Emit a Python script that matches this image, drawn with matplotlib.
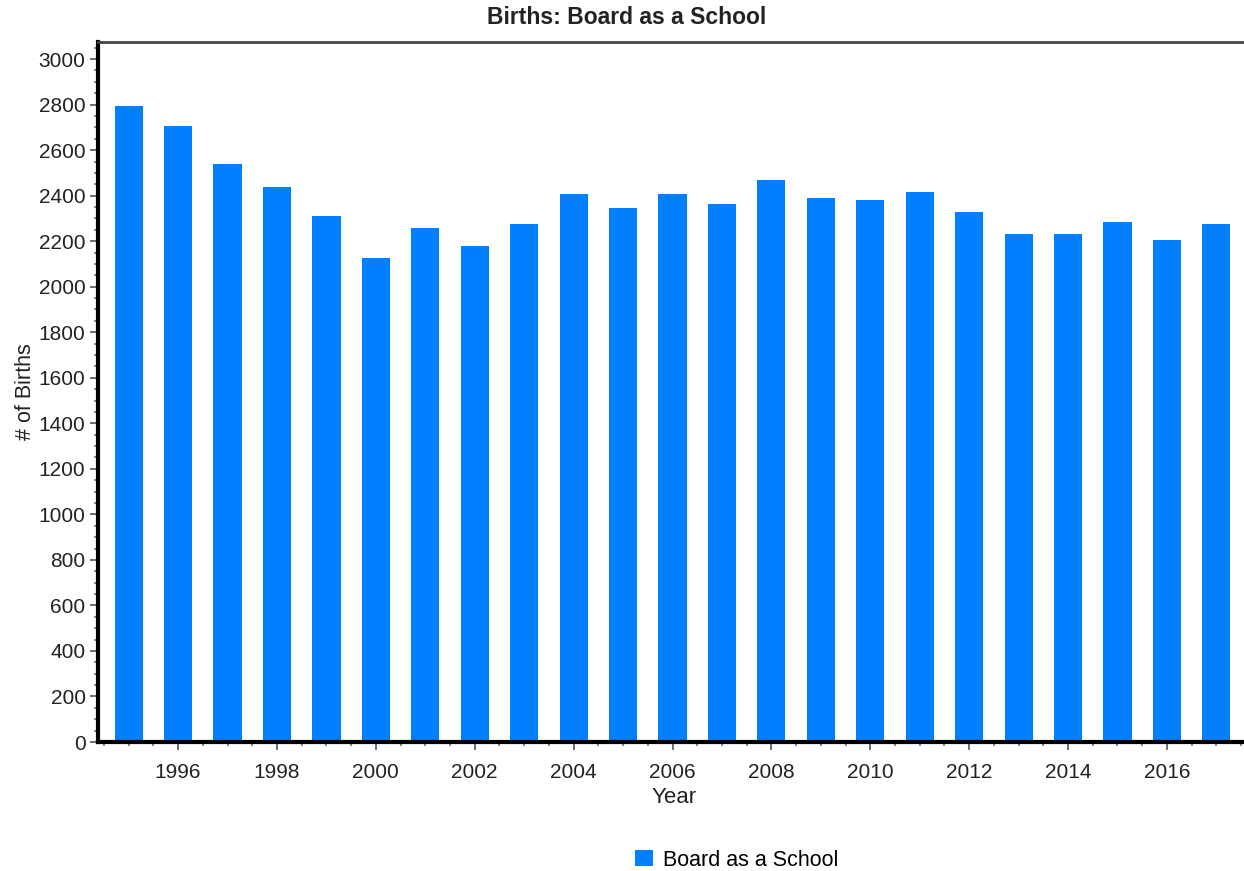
import numpy as np
import matplotlib
matplotlib.use('Agg')
import matplotlib.pyplot as plt
from matplotlib.ticker import MultipleLocator

# data
years = list(range(1995, 2018))
births = [2795, 2705, 2537, 2440, 2310, 2125, 2257, 2178, 2275, 2407,
          2345, 2407, 2363, 2468, 2389, 2380, 2416, 2328, 2231, 2231,
          2284, 2205, 2275]
series_name = 'Board as a School'
chart_title = 'Births: Board as a School'

plt.rcParams['font.family'] = ['Liberation Sans', 'DejaVu Sans']

fig = plt.figure(figsize=(12.44, 8.71), dpi=100)
ax = fig.add_axes([98 / 1244, 129 / 871, 1152 / 1244, 700 / 871])

ax.bar(years, births, width=0.57, color='#0080ff', label=series_name, zorder=2)

ax.set_xlim(1994.38, 2017.68)
ax.set_ylim(0, 3075)

ax.xaxis.set_major_locator(MultipleLocator(2))
ax.xaxis.set_minor_locator(MultipleLocator(0.5))
ax.yaxis.set_major_locator(MultipleLocator(200))
ax.yaxis.set_minor_locator(MultipleLocator(50))

ax.tick_params(axis='both', which='major', direction='out', length=6, width=1.2,
               labelsize=15, colors='#555555', labelcolor='#222222')
ax.tick_params(axis='x', which='major', pad=9)
ax.tick_params(axis='y', which='major', pad=3)
ax.tick_params(axis='both', which='minor', direction='out', length=3, width=1.2,
               colors='#777777')

ax.spines['left'].set_linewidth(3)
ax.spines['bottom'].set_linewidth(3)
ax.spines['top'].set_linewidth(2)
ax.spines['top'].set_color('#444444')
ax.spines['right'].set_visible(False)

fig.text(627 / 1244, 1 - 17 / 871, chart_title, fontsize=16.5, fontweight='bold',
         color='#222222', ha='center', va='center')
ax.set_xlabel('Year', fontsize=16, labelpad=4, color='#222222')
ax.set_ylabel('# of Births', fontsize=15.5, labelpad=2, color='#222222')

fig.legend(loc='center', bbox_to_anchor=(737 / 1244, 1 - 860 / 871), frameon=False,
           fontsize=15.5, handlelength=0.8, handleheight=0.8, handletextpad=0.5,
           borderpad=0.2)

fig.savefig('out.png', dpi=100)
